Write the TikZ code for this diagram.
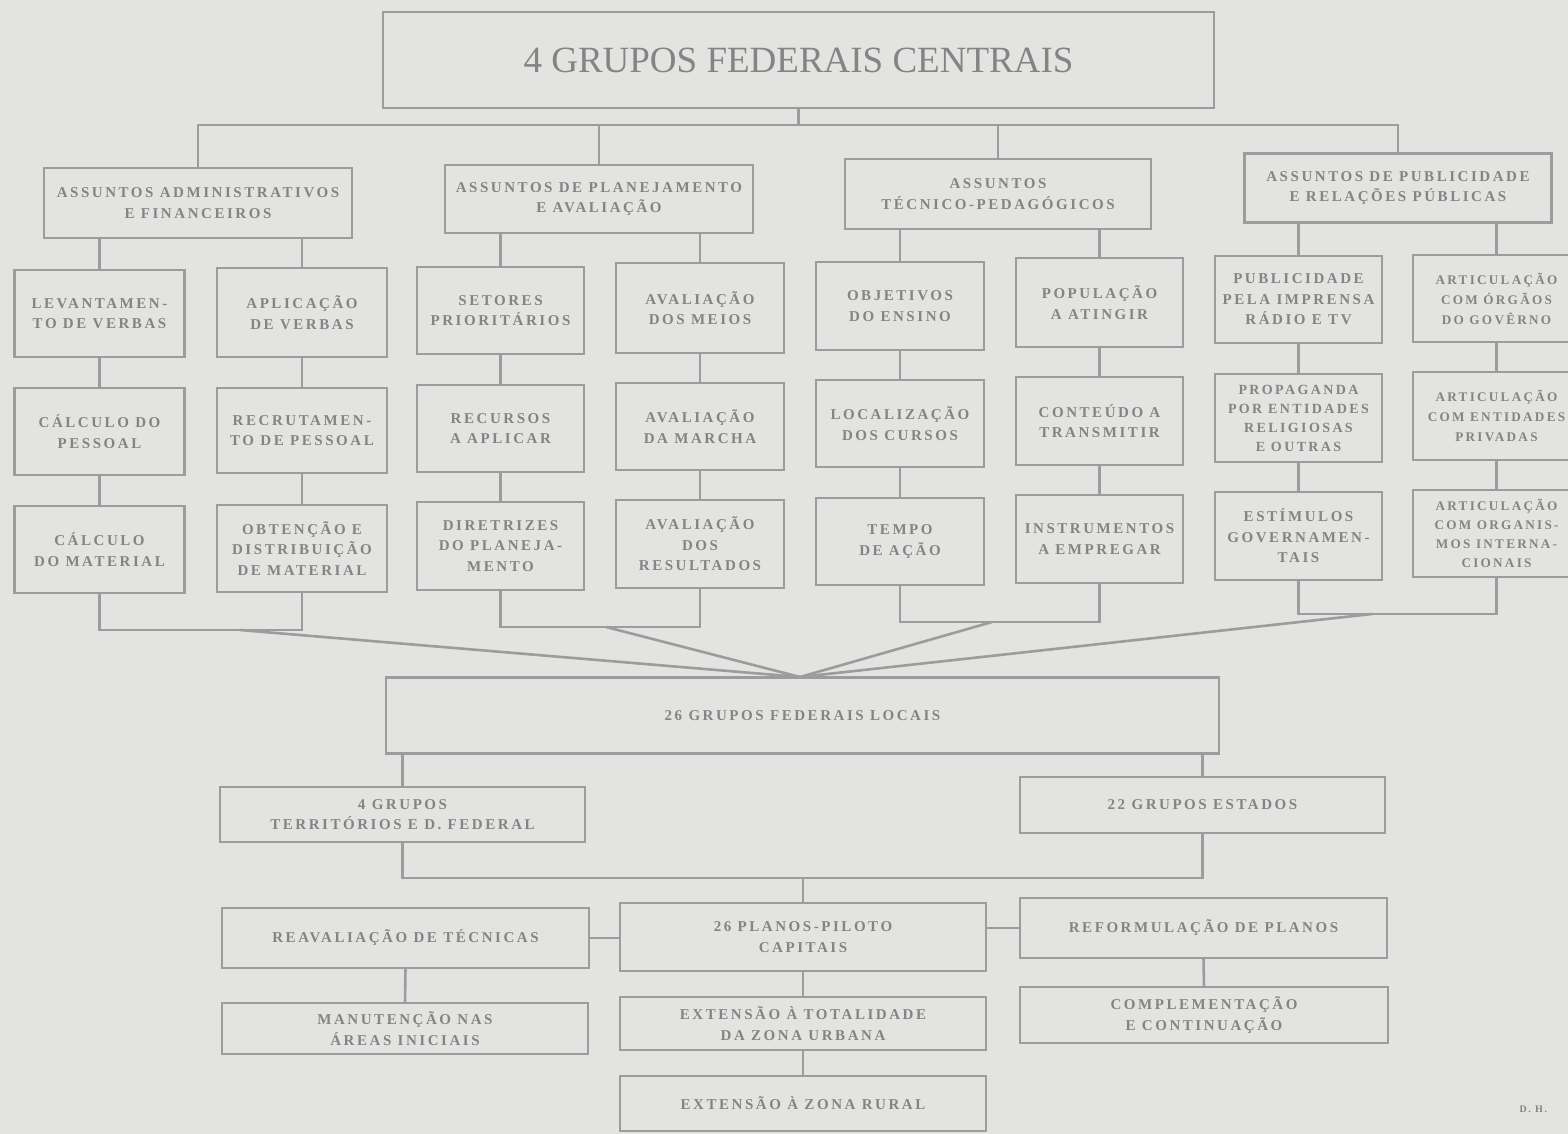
\documentclass[tikz,border=0pt]{standalone}
\usepackage{fontspec}
\setmainfont{Liberation Serif}
\newfontfamily\boxfont[LetterSpace=17]{Liberation Serif}
\definecolor{paper}{RGB}{227,227,225}
\definecolor{linec}{RGB}{156,156,156}
\definecolor{textc}{RGB}{132,132,132}
\tikzset{
  bx/.style={draw=linec, line width=2.6pt, text=textc, align=center, inner sep=0pt, outer sep=0pt,
    font=\boxfont\bfseries\fontsize{15}{20.5}\selectfont},
  hbx/.style={bx, font=\boxfont\bfseries\fontsize{13.2}{20}\selectfont},
  conn/.style={draw=linec, line width=2.6pt, line join=miter},
}
\newcommand{\mybox}[6]{\node[bx, minimum width=#4pt, minimum height=#5pt] (#1) at (#2,#3) {#6};}
\begin{document}
\begin{tikzpicture}[x=1pt,y=-1pt]
\useasboundingbox (0,0) rectangle (1568,1134);
\fill[paper] (0,0) rectangle (1568,1134);
\clip (0,0) rectangle (1568,1134);

% title
\node[bx, minimum width=831pt, minimum height=96pt, font=\fontsize{37}{40}\selectfont] (title) at (798.5,60) {4 GRUPOS FEDERAIS CENTRAIS};

% level 1
\mybox{L1}{198}{203}{308}{70}{ASSUNTOS ADMINISTRATIVOS\\E FINANCEIROS}
\mybox{L2}{599}{199}{308}{68}{ASSUNTOS DE PLANEJAMENTO\\E AVALIAÇÃO}
\mybox{L3}{998}{194}{306}{70}{ASSUNTOS\\TÉCNICO-PEDAGÓGICOS}
\mybox{L4}{1398}{188}{307}{69}{ASSUNTOS DE PUBLICIDADE\\E RELAÇÕES PÚBLICAS}

% column A
\mybox{a1}{99.5}{313.5}{170}{87}{LEVANTAMEN-\\TO DE VERBAS}
\mybox{a2}{99.5}{431.5}{170}{87}{CÁLCULO DO\\PESSOAL}
\mybox{a3}{99.5}{549.5}{170}{87}{CÁLCULO\\DO MATERIAL}
% column B
\mybox{b1}{302}{312.5}{170}{89}{APLICAÇÃO\\DE VERBAS}
\mybox{b2}{302}{430.5}{170}{85}{RECRUTAMEN-\\TO DE PESSOAL}
\mybox{b3}{302}{548.5}{170}{87}{OBTENÇÃO E\\DISTRIBUIÇÃO\\DE MATERIAL}
% column C
\mybox{c1}{500.5}{310.5}{167}{87}{SETORES\\PRIORITÁRIOS}
\mybox{c2}{500.5}{428.5}{167}{87}{RECURSOS\\A APLICAR}
\mybox{c3}{500.5}{546}{167}{88}{DIRETRIZES\\DO PLANEJA-\\MENTO}
% column D
\mybox{d1}{700}{308}{168}{90}{AVALIAÇÃO\\DOS MEIOS}
\mybox{d2}{700}{426.5}{168}{87}{AVALIAÇÃO\\DA MARCHA}
\mybox{d3}{700}{544}{168}{88}{AVALIAÇÃO\\DOS\\RESULTADOS}
% column E
\mybox{e1}{900}{306}{168}{88}{OBJETIVOS\\DO ENSINO}
\mybox{e2}{900}{423.5}{168}{87}{LOCALIZAÇÃO\\DOS CURSOS}
\mybox{e3}{900}{541.5}{168}{87}{TEMPO\\DE AÇÃO}
% column F
\mybox{f1}{1099.5}{302.5}{167}{89}{POPULAÇÃO\\A ATINGIR}
\mybox{f2}{1099.5}{421}{167}{88}{CONTEÚDO A\\TRANSMITIR}
\mybox{f3}{1099.5}{539}{167}{88}{INSTRUMENTOS\\A EMPREGAR}
% column G
\mybox{g1}{1298.5}{299.5}{167}{87}{PUBLICIDADE\\PELA IMPRENSA\\RÁDIO E TV}
\node[bx, minimum width=167pt, minimum height=88pt, font=\boxfont\bfseries\fontsize{14}{19}\selectfont] (g2) at (1298.5,418) {PROPAGANDA\\POR ENTIDADES\\RELIGIOSAS\\E OUTRAS};
\mybox{g3}{1298.5}{536}{167}{88}{ESTÍMULOS\\GOVERNAMEN-\\TAIS}
% column H
\node[hbx, minimum width=167pt, minimum height=87pt] (h1) at (1496.5,298.5) {ARTICULAÇÃO\\COM ÓRGÃOS\\DO GOVÊRNO};
\node[hbx, minimum width=167pt, minimum height=88pt] (h2) at (1496.5,416) {ARTICULAÇÃO\\COM ENTIDADES\\PRIVADAS};
\node[hbx, minimum width=167pt, minimum height=87pt, font=\boxfont\bfseries\fontsize{13.2}{19}\selectfont] (h3) at (1496.5,533.5) {ARTICULAÇÃO\\COM ORGANIS-\\MOS INTERNA-\\CIONAIS};

% lower part
\mybox{loc}{802.5}{715.5}{833}{76}{26 GRUPOS FEDERAIS LOCAIS}
\mybox{terr}{402.5}{814.5}{365}{55}{4 GRUPOS\\TERRITÓRIOS E D. FEDERAL}
\mybox{est}{1202.5}{805}{365}{56}{22 GRUPOS ESTADOS}
\mybox{reav}{405.5}{938}{367}{60}{REAVALIAÇÃO DE TÉCNICAS}
\mybox{planos}{803}{937}{366}{68}{26 PLANOS-PILOTO\\CAPITAIS}
\mybox{reform}{1203.5}{928}{367}{60}{REFORMULAÇÃO DE PLANOS}
\mybox{manut}{405}{1028.5}{366}{51}{MANUTENÇÃO NAS\\ÁREAS INICIAIS}
\mybox{urb}{803}{1023.5}{366}{53}{EXTENSÃO À TOTALIDADE\\DA ZONA URBANA}
\mybox{compl}{1204}{1015}{368}{56}{COMPLEMENTAÇÃO\\E CONTINUAÇÃO}
\mybox{rural}{803}{1103.5}{366}{55}{EXTENSÃO À ZONA RURAL}

\node[text=textc, font=\boxfont\bfseries\fontsize{10}{12}\selectfont, anchor=west] (dh) at (1516,1109) {D. H.};

% top bus
\coordinate (bus) at (0,125);
\draw[conn] (title.south) -- (title.south |- bus);
\draw[conn] (L1.north) -- (L1.north |- bus) -- (L4.north |- bus) -- (L4.north);
\draw[conn] (L2.north) -- (L2.north |- bus);
\draw[conn] (L3.north) -- (L3.north |- bus);

% level 1 to columns
\foreach \p/\c in {L1/a1,L1/b1,L2/c1,L2/d1,L3/e1,L3/f1,L4/g1,L4/h1}
  \draw[conn] (\c.north) -- (\c.north |- \p.south);

% within columns
\foreach \c in {a,b,c,d,e,f,g,h}{
  \draw[conn] (\c1.south) -- (\c2.north);
  \draw[conn] (\c2.south) -- (\c3.north);
}

% bottom brackets
\coordinate (jab) at (0,630);
\coordinate (jcd) at (0,627);
\coordinate (jef) at (0,622);
\coordinate (jgh) at (0,614);
\draw[conn] (a3.south) -- (a3.south |- jab) -- (b3.south |- jab) -- (b3.south);
\draw[conn] (c3.south) -- (c3.south |- jcd) -- (d3.south |- jcd) -- (d3.south);
\draw[conn] (e3.south) -- (e3.south |- jef) -- (f3.south |- jef) -- (f3.south);
\draw[conn] (g3.south) -- (g3.south |- jgh) -- (h3.south |- jgh) -- (h3.south);
\coordinate (dab) at (240,630);
\coordinate (dcd) at (606,627);
\coordinate (def) at (992,622);
\coordinate (dgh) at (1372,614);
\coordinate (meet) at (800,677);
\foreach \d in {dab,dcd,def,dgh}
  \draw[conn] (\d) -- (meet);

% lower connectors
\draw[conn] (terr.north) -- (terr.north |- loc.south);
\draw[conn] (est.north) -- (est.north |- loc.south);
\coordinate (jte) at (0,878);
\draw[conn] (terr.south) -- (terr.south |- jte) -- (est.south |- jte) -- (est.south);
\draw[conn] (planos.north |- jte) -- (planos.north);
\draw[conn] (reav.east) -- (reav.east -| planos.west);
\draw[conn] (reform.west) -- (reform.west -| planos.east);
\draw[conn] (reav.south) -- (manut.north);
\draw[conn] (planos.south) -- (urb.north);
\draw[conn] (reform.south) -- (compl.north);
\draw[conn] (urb.south) -- (rural.north);
\end{tikzpicture}
\end{document}
